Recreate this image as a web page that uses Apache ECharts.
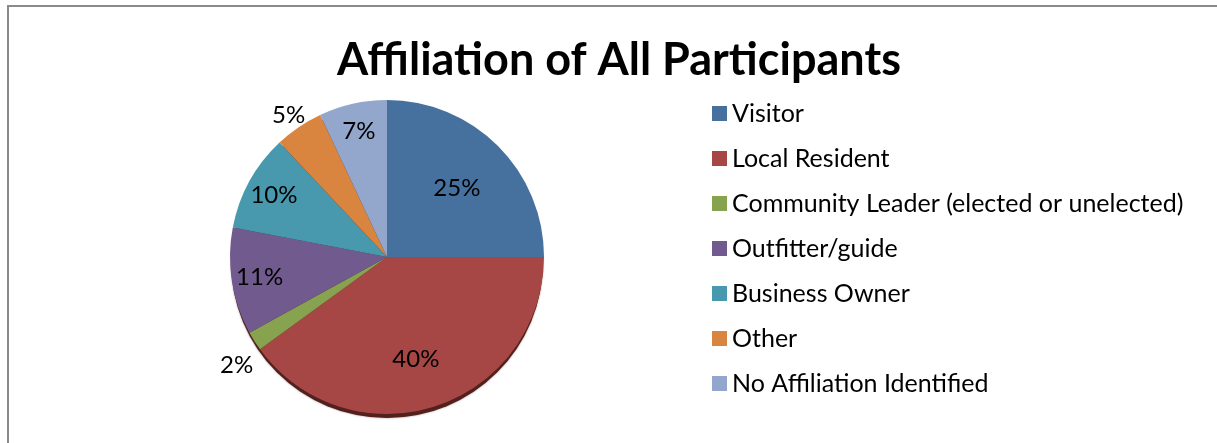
<!DOCTYPE html>
<html>
<head>
<meta charset="utf-8">
<script src="https://cdn.jsdelivr.net/npm/echarts@6/dist/echarts.min.js"></script>
<style>
  html, body { margin: 0; padding: 0; background: #fff; }
  #chart { width: 1217px; height: 443px; }
</style>
</head>
<body>
<div id="chart"></div>
<script>
// Share of participants by affiliation (percent)
const categories = [
  'Visitor',
  'Local Resident',
  'Community Leader (elected or unelected)',
  'Outfitter/guide',
  'Business Owner',
  'Other',
  'No Affiliation Identified'
];
const shares = [25, 40, 2, 11, 10, 5, 7];
const palette = ['#46719F', '#A64745', '#87A350', '#715B8E', '#4898AE', '#D9853F', '#92A7CB'];

const FONT = 'Lato, "Open Sans", sans-serif';
const CENTER = [387, 257];
const RADIUS = 157;

const pieData = categories.map((name, i) => ({ name, value: shares[i] }));

// Labels sit on rings at different distances from the centre:
// big slices nearer the middle, mid slices further out, slivers outside the rim.
function labelRing(radius, test, offset) {
  return {
    type: 'pie',
    silent: true,
    center: CENTER,
    radius: [radius - 1, radius + 1],
    startAngle: 90,
    clockwise: true,
    avoidLabelOverlap: false,
    itemStyle: { color: 'rgba(0,0,0,0)' },
    emphasis: { disabled: true },
    labelLine: { show: false },
    label: {
      show: true,
      position: 'inside',
      color: '#000',
      fontFamily: FONT,
      fontSize: 24,
      offset: offset || [0, 0],
      formatter: p => (test(p.value) ? p.value + '%' : '')
    },
    data: pieData
  };
}

const chart = echarts.init(document.getElementById('chart'), null, { renderer: 'canvas' });
chart.setOption({
  animation: false,
  color: palette,
  title: {
    text: 'Affiliation of All Participants',
    left: 614,
    top: 33,
    textAlign: 'center',
    textStyle: { fontFamily: FONT, fontWeight: 'bold', fontSize: 45, color: '#000' }
  },
  legend: {
    orient: 'vertical',
    left: 707,
    top: 96,
    icon: 'rect',
    itemWidth: 15,
    itemHeight: 15,
    itemGap: 20,
    selectedMode: false,
    data: categories,
    textStyle: { fontFamily: FONT, fontSize: 25, color: '#000', lineHeight: 20 }
  },
  graphic: [{
    type: 'rect',
    silent: true,
    shape: { x: 8, y: 6, width: 1240, height: 460 },
    style: { fill: 'none', stroke: '#8a8a8a', lineWidth: 2 }
  }],
  series: [
    {
      type: 'pie',
      center: CENTER,
      radius: [0, RADIUS],
      startAngle: 90,
      clockwise: true,
      label: { show: false },
      labelLine: { show: false },
      itemStyle: { borderWidth: 0 },
      data: pieData,
      z: 2
    },
    // dark rim under the lower edge of the disc
    {
      type: 'pie',
      silent: true,
      center: [CENTER[0], CENTER[1] + 5],
      radius: [0, RADIUS - 1],
      label: { show: false },
      labelLine: { show: false },
      itemStyle: { color: '#52201d', shadowColor: 'rgba(60,20,20,0.5)', shadowBlur: 2 },
      data: [{ name: '', value: 1 }],
      z: 1
    },
    labelRing(100, v => v >= 20, [-3, 4]),
    labelRing(126, v => v >= 6 && v < 20),
    labelRing(181, v => v < 6, [5, 10])
  ]
});
</script>
</body>
</html>
